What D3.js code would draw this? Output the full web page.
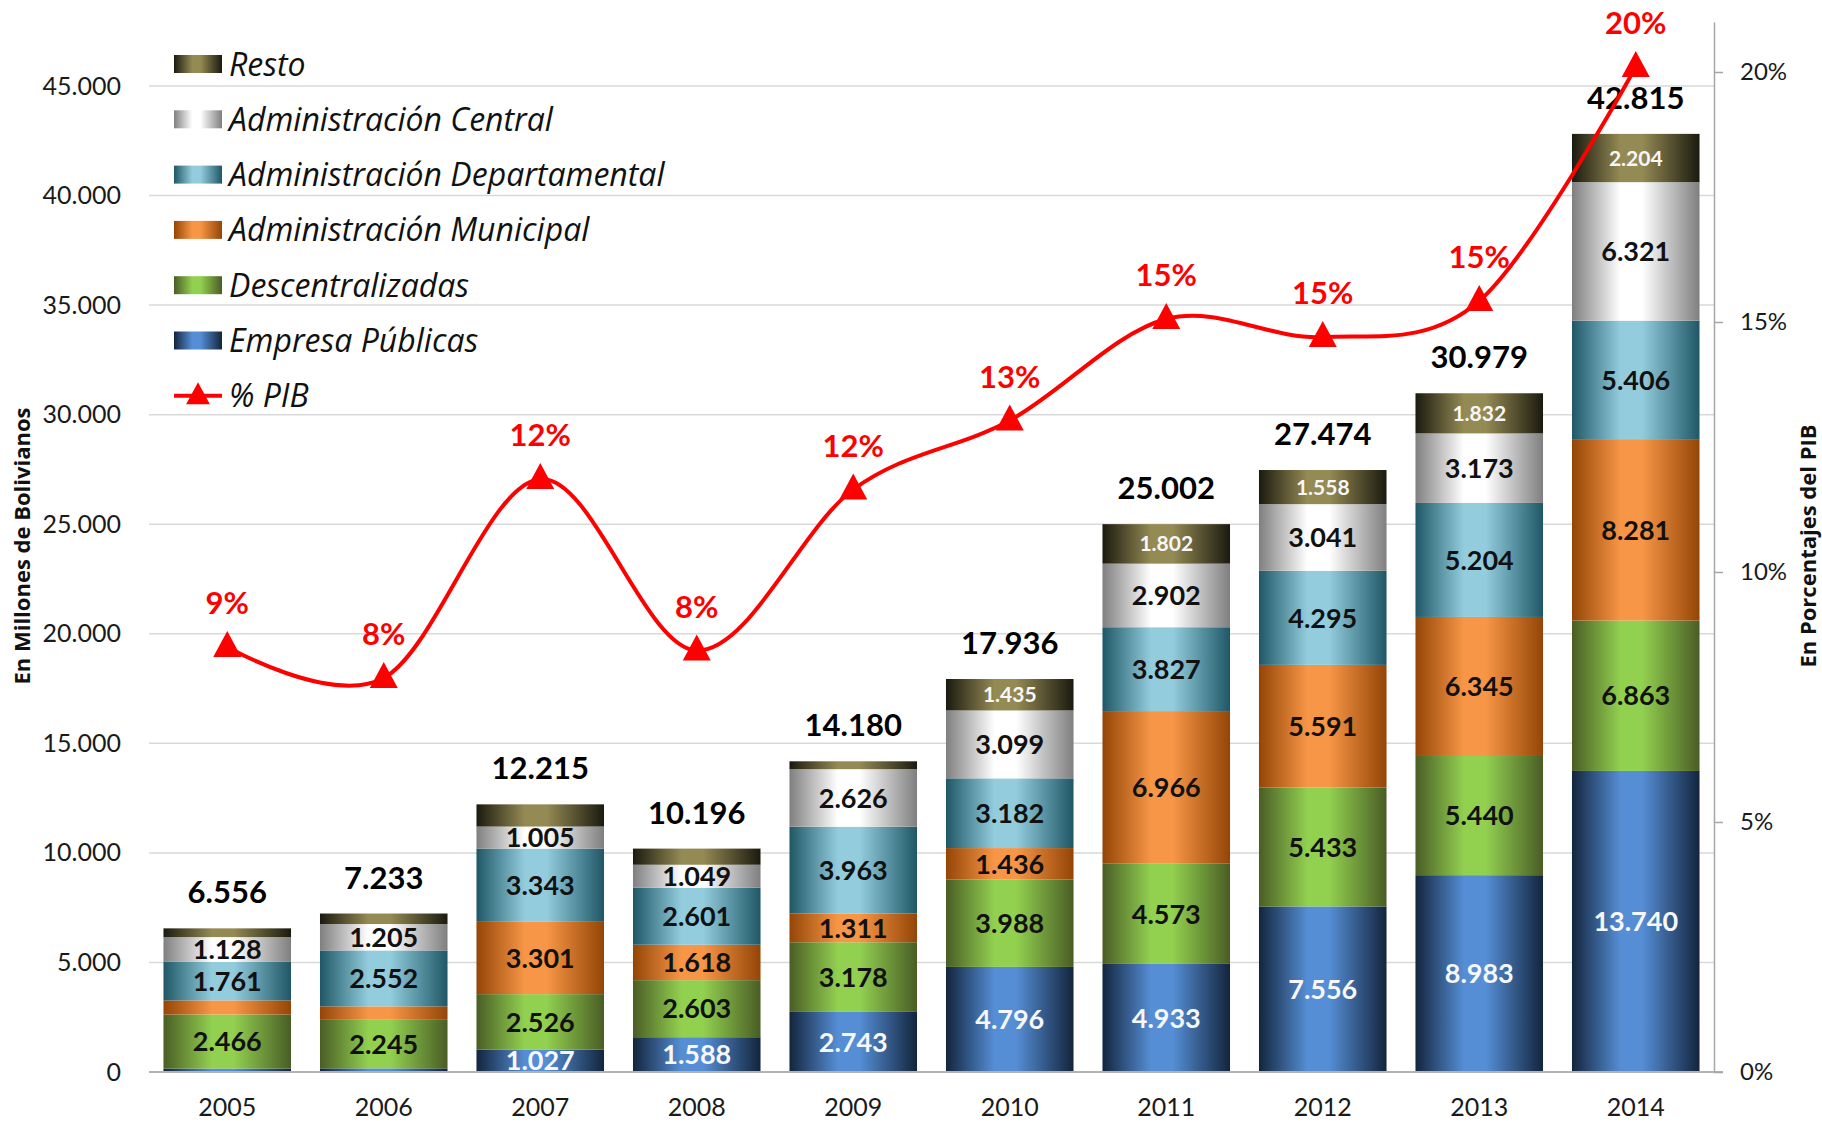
<!DOCTYPE html>
<html>
<head>
<meta charset="utf-8">
<script src="https://cdn.jsdelivr.net/npm/d3@7"></script>
<style>
  body { margin: 0; background: #fff; }
  svg { display: block; font-family: Lato, "Open Sans", sans-serif; }
</style>
</head>
<body>
<svg width="1822" height="1123"></svg>
<script>
// data (millones de Bs)
var years = ["2005", "2006", "2007", "2008", "2009", "2010", "2011", "2012", "2013", "2014"];
var seriesNames = ["Empresa Públicas", "Descentralizadas", "Administración Municipal",
  "Administración Departamental", "Administración Central", "Resto"];
var empresa        = [158, 165, 1027, 1588, 2743, 4796, 4933, 7556, 8983, 13740];
var descentral     = [2466, 2245, 2526, 2603, 3178, 3988, 4573, 5433, 5440, 6863];
var municipal      = [643, 585, 3301, 1618, 1311, 1436, 6966, 5591, 6345, 8281];
var departamental  = [1761, 2552, 3343, 2601, 3963, 3182, 3827, 4295, 5204, 5406];
var central        = [1128, 1205, 1005, 1049, 2626, 3099, 2902, 3041, 3173, 6321];
var resto          = [400, 481, 1013, 737, 359, 1435, 1802, 1558, 1832, 2204];
var totals         = [6556, 7233, 12215, 10196, 14180, 17936, 25002, 27474, 30979, 42815];
var pib            = [8.5, 7.88, 11.86, 8.43, 11.65, 13.03, 15.06, 14.7, 15.42, 20.1];
var leftTicks  = [0, 5000, 10000, 15000, 20000, 25000, 30000, 35000, 40000, 45000];
var rightTicks = [0, 5, 10, 15, 20];
// segments that carry no data label in the original
var unlabeled = [["Empresa Públicas", "2005"], ["Administración Municipal", "2005"], ["Resto", "2005"],
  ["Empresa Públicas", "2006"], ["Administración Municipal", "2006"], ["Resto", "2006"],
  ["Resto", "2007"], ["Resto", "2008"], ["Resto", "2009"]];

var svg = d3.select("svg"),
    plotLeft = 149, plotRight = 1714, plotTop = 22, y0 = 1072;

var fmt = d3.formatLocale({ decimal: ",", thousands: ".", grouping: [3], currency: ["", ""] }).format(",d");

// gradient colours per series: [edge, centre]
var shades = [["#13253d", "#558ed5"], ["#4a5d25", "#92d050"], ["#944506", "#f79646"],
  ["#1f5766", "#93cddd"], ["#7f7f7f", "#ffffff"], ["#1b1a0f", "#948a54"]];

var rows = years.map(function (yr, i) {
  var r = { year: yr };
  [empresa, descentral, municipal, departamental, central, resto].forEach(function (arr, k) {
    r[seriesNames[k]] = arr[i];
  });
  return r;
});

var x = d3.scaleBand().domain(years).range([plotLeft, plotRight]).paddingInner(0.185).paddingOuter(0.0925);
var y = d3.scaleLinear().domain([0, 45000]).range([y0, 86]);
var yPct = d3.scaleLinear().domain([0, 21]).range([y0, plotTop]);

var defs = svg.append("defs");
shades.forEach(function (c, k) {
  var g = defs.append("linearGradient").attr("id", "grad" + k).attr("x1", 0).attr("x2", 1).attr("y1", 0).attr("y2", 0);
  g.append("stop").attr("offset", "0%").attr("stop-color", c[0]);
  g.append("stop").attr("offset", "38%").attr("stop-color", c[1]);
  g.append("stop").attr("offset", "55%").attr("stop-color", c[1]);
  g.append("stop").attr("offset", "100%").attr("stop-color", c[0]);
});

// gridlines
svg.append("g").selectAll("line").data(leftTicks.slice(1)).join("line")
  .attr("x1", plotLeft).attr("x2", plotRight)
  .attr("y1", function (d) { return y(d); }).attr("y2", function (d) { return y(d); })
  .attr("stroke", "#d9d9d9").attr("stroke-width", 1.5);

// left axis labels
var yAxis = svg.append("g").attr("transform", "translate(" + (plotLeft - 28) + ",0)")
  .call(d3.axisLeft(y).tickValues(leftTicks).tickSize(0).tickPadding(0).tickFormat(fmt));
yAxis.select(".domain").remove();
yAxis.selectAll("text").attr("font-size", 25).attr("fill", "#1a1a1a").attr("font-family", "Lato");

// stacked bars
var stacked = d3.stack().keys(seriesNames)(rows);
var layer = svg.append("g").selectAll("g").data(stacked).join("g")
  .attr("fill", function (d, k) { return "url(#grad" + k + ")"; });
layer.selectAll("rect").data(function (d) { return d; }).join("rect")
  .attr("x", function (d) { return x(d.data.year); })
  .attr("width", x.bandwidth())
  .attr("y", function (d) { return y(d[1]); })
  .attr("height", function (d) { return y(d[0]) - y(d[1]); });

// segment labels
var isHidden = function (name, yr) {
  return unlabeled.some(function (u) { return u[0] === name && u[1] === yr; });
};
stacked.forEach(function (s) {
  var name = s.key;
  svg.append("g").selectAll("text")
    .data(s.filter(function (d) { return !isHidden(name, d.data.year); }))
    .join("text")
    .attr("x", function (d) { return x(d.data.year) + x.bandwidth() / 2; })
    .attr("y", function (d) { return (y(d[0]) + y(d[1])) / 2; })
    .attr("dy", "0.36em")
    .attr("text-anchor", "middle")
    .attr("font-weight", "bold")
    .attr("font-size", name === "Resto" ? 21 : 27)
    .attr("fill", (name === "Resto" || name === "Empresa Públicas") ? "#f7f7f7" : "#111")
    .text(function (d) { return fmt(d.data[name]); });
});

// totals on top
svg.append("g").selectAll("text").data(years).join("text")
  .attr("x", function (d) { return x(d) + x.bandwidth() / 2; })
  .attr("y", function (d, i) { return y(totals[i]) - 25; })
  .attr("text-anchor", "middle")
  .attr("font-weight", "bold").attr("font-size", 31).attr("fill", "#000")
  .text(function (d, i) { return fmt(totals[i]); });

// bottom axis line + year labels
svg.append("line").attr("x1", plotLeft).attr("x2", plotRight + 9).attr("y1", y0).attr("y2", y0)
  .attr("stroke", "#b3b3b3").attr("stroke-width", 2);
svg.append("g").selectAll("text").data(years).join("text")
  .attr("x", function (d) { return x(d) + x.bandwidth() / 2; })
  .attr("y", 1116)
  .attr("text-anchor", "middle").attr("font-size", 25).attr("fill", "#1a1a1a")
  .text(function (d) { return d; });

// right axis
var rAxis = svg.append("g").attr("transform", "translate(" + plotRight + ",0)")
  .call(d3.axisRight(yPct).tickValues(rightTicks).tickSize(9).tickSizeOuter(0).tickPadding(17)
    .tickFormat(function (d) { return d + "%"; }));
rAxis.select(".domain").attr("stroke", "#a6a6a6").attr("stroke-width", 1.5);
rAxis.selectAll(".tick line").attr("stroke", "#a6a6a6").attr("stroke-width", 1.5);
rAxis.selectAll("text").attr("font-size", 24).attr("fill", "#1a1a1a").attr("font-family", "Lato");

// % PIB line
var cx = function (d, i) { return x(years[i]) + x.bandwidth() / 2; };
var line = d3.line().x(cx).y(function (d) { return yPct(d); }).curve(d3.curveCatmullRom.alpha(0));
svg.append("path").datum(pib).attr("d", line)
  .attr("fill", "none").attr("stroke", "#ff0000").attr("stroke-width", 4);
var tri = "M0,-16L14,10L-14,10Z";
svg.append("g").selectAll("path").data(pib).join("path")
  .attr("d", tri).attr("fill", "#ff0000")
  .attr("transform", function (d, i) { return "translate(" + cx(d, i) + "," + yPct(d) + ")"; });
svg.append("g").selectAll("text").data(pib).join("text")
  .attr("x", cx)
  .attr("y", function (d) { return yPct(d) - 33; })
  .attr("text-anchor", "middle").attr("font-weight", "bold").attr("font-size", 31).attr("fill", "#ff0000")
  .text(function (d) { return Math.round(d) + "%"; });

// legend
var legendItems = seriesNames.slice().reverse().concat(["% PIB"]);
var lg = svg.append("g").selectAll("g").data(legendItems).join("g")
  .attr("transform", function (d, i) { return "translate(174," + (64 + i * 55.3) + ")"; });
lg.each(function (d, i) {
  var g = d3.select(this);
  if (d === "% PIB") {
    g.append("line").attr("x1", 0).attr("x2", 48).attr("stroke", "#ff0000").attr("stroke-width", 4);
    g.append("path").attr("d", tri).attr("fill", "#ff0000").attr("transform", "translate(24,0) scale(0.85)");
  } else {
    g.append("rect").attr("x", 0).attr("y", -9).attr("width", 48).attr("height", 18)
      .attr("fill", "url(#grad" + (seriesNames.length - 1 - i) + ")");
  }
  g.append("text").attr("x", 55).attr("dy", "0.36em")
    .attr("font-family", "'Open Sans'")
    .attr("font-style", "italic").attr("font-size", 32).attr("fill", "#111")
    .text(d);
});

// axis titles
svg.append("text").attr("transform", "translate(22,546) rotate(-90)")
  .attr("text-anchor", "middle").attr("dy", "0.36em").attr("font-family", "'Open Sans'")
  .attr("font-weight", "bold").attr("font-size", 22).attr("fill", "#111")
  .text("En Millones de Bolivianos");
svg.append("text").attr("transform", "translate(1808,546) rotate(-90)")
  .attr("text-anchor", "middle").attr("dy", "0.36em").attr("font-family", "'Open Sans'")
  .attr("font-weight", "bold").attr("font-size", 22).attr("fill", "#111")
  .text("En Porcentajes del PIB");
</script>
</body>
</html>
